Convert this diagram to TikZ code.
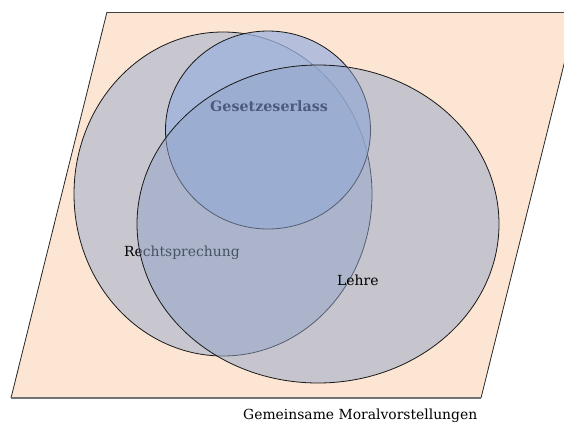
\documentclass[tikz,border=0pt]{standalone}
\usepackage{fontspec}
\setmainfont{DejaVu Serif}
\usetikzlibrary{shapes.geometric}
\definecolor{peach}{HTML}{FDE5D3}
\definecolor{lingray}{HTML}{C8C6CE}
\definecolor{setblue}{HTML}{9DB3DE}
\definecolor{lehreblue}{HTML}{90A4C8}
\definecolor{navytext}{HTML}{051237}
\begin{document}
\begin{tikzpicture}[x=1pt,y=-1pt,
  oval/.style={ellipse, draw=black!90, line width=0.8pt, inner sep=0pt},
  lbl/.style={inner sep=0pt, anchor=base west, font=\fontsize{13.9}{16}\selectfont}]
\useasboundingbox (0,0) rectangle (564,426);
% parallelogram background
\begin{scope}
  \clip (0,0) rectangle (564,426);
  \fill[peach] (107,12) -- (577,12) -- (481,398) -- (11,398) -- cycle;
  \draw[black!75, line width=1pt] (107,12) -- (577,12);
  \draw[black!85, line width=0.8pt] (107,12) -- (11,398);
  \draw[black!85, line width=0.8pt] (577,12) -- (481,398);
  \draw[black!55, line width=2.2pt] (11,398) -- (481,398);
\end{scope}
% sets
\node[oval, fill=lingray, minimum width=298pt, minimum height=324pt] (recht) at (223,194) {};
\node[lbl] (rechtlbl) at (124,256) {Rechtsprechung};
\node[oval, fill=setblue, fill opacity=0.75, minimum width=205pt, minimum height=198pt] (gesetz) at (268,130) {};
\node[lbl, font=\fontsize{14.3}{16}\selectfont\bfseries, text=navytext] (gesetzlbl) at (210,111) {Gesetzeserlass};
\node[oval, fill=lehreblue, fill opacity=0.5, minimum width=362pt, minimum height=318pt] (lehre) at (318,224) {};
\node[lbl] (lehrelbl) at (337,285) {Lehre};
\node[lbl] (moral) at (243,419) {Gemeinsame Moralvorstellungen};
\end{tikzpicture}
\end{document}
